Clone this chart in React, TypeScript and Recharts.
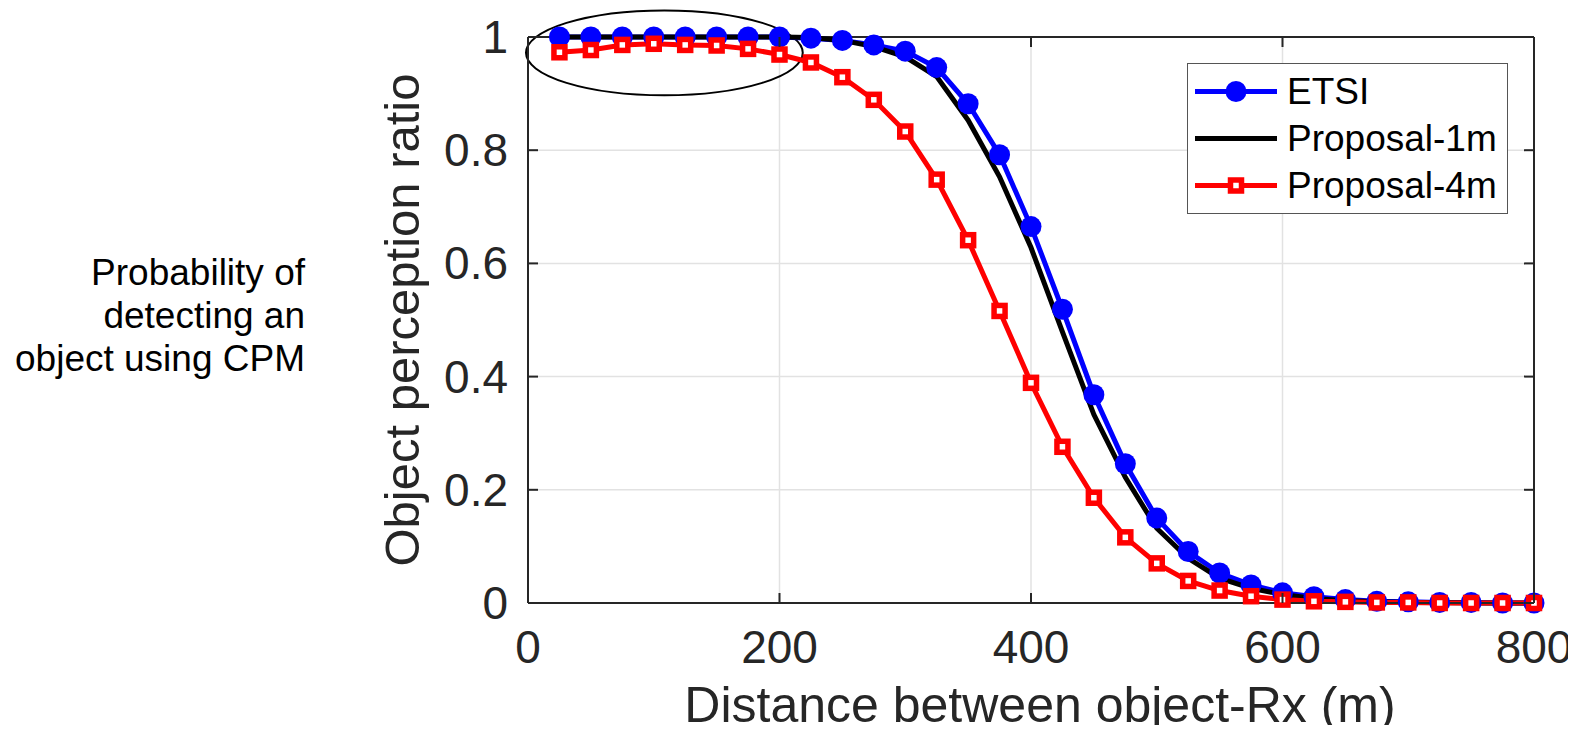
import React from "react";
import {
  LineChart,
  Line,
  XAxis,
  YAxis,
  CartesianGrid,
  ReferenceLine,
  ReferenceArea,
} from "recharts";

// Distance between object and receiver (m)
const distance = [
  25, 50, 75, 100, 125, 150, 175, 200, 225, 250, 275, 300, 325, 350, 375, 400,
  425, 450, 475, 500, 525, 550, 575, 600, 625, 650, 675, 700, 725, 750, 775, 800,
];

const etsi = [
  1.0, 1.0, 1.0, 1.0, 1.0, 1.0, 1.0, 1.0, 0.998, 0.994, 0.986, 0.975, 0.946,
  0.882, 0.792, 0.665, 0.519, 0.368, 0.246, 0.15, 0.091, 0.053, 0.032, 0.018,
  0.011, 0.006, 0.003, 0.002, 0.001, 0.001, 0.0, 0.0,
];

const proposal1m = [
  1.0, 1.0, 1.0, 1.0, 1.0, 1.0, 1.0, 1.0, 0.999, 0.994, 0.983, 0.965, 0.93,
  0.853, 0.753, 0.628, 0.479, 0.333, 0.222, 0.132, 0.079, 0.044, 0.026, 0.015,
  0.008, 0.004, 0.002, 0.001, 0.001, 0.0, 0.0, 0.0,
];

const proposal4m = [
  0.973, 0.977, 0.986, 0.988, 0.986, 0.985, 0.979, 0.969, 0.955, 0.929, 0.889,
  0.833, 0.748, 0.641, 0.516, 0.389, 0.276, 0.186, 0.116, 0.07, 0.039, 0.022,
  0.012, 0.006, 0.003, 0.002, 0.001, 0.001, 0.0, 0.0, 0.0, 0.0,
];

const X_TICKS = [0, 200, 400, 600, 800];
const Y_TICKS = [0, 0.2, 0.4, 0.6, 0.8, 1];

const annotationLines = ["Probability of", "detecting an", "object using CPM"];

// ellipse highlighting the flat region (data coords)
const highlight = { x1: -1.6, x2: 218.5, y1: 0.897, y2: 1.047 };

const FONT = '"Liberation Sans", Arial, Helvetica, sans-serif';
const AXIS = "#262626";

// page box stays 1560x717 (no scrollbars); the svg may run to the window edge
const BOX_W = 1560;
const BOX_H = 717;
const W = 1568;
const H = 725;
const PLOT_LEFT = 520;
const PLOT_TOP = 29;
const PLOT_RIGHT = 1526;
const PLOT_BOTTOM = 595;

const rows = distance.map((d, i) => ({
  distance: d,
  etsi: etsi[i],
  p1: proposal1m[i],
  p4: proposal4m[i],
}));

function XTick(props: any) {
  const { x, payload } = props;
  return (
    <g>
      <line x1={x} x2={x} y1={PLOT_BOTTOM} y2={PLOT_BOTTOM - 10} stroke={AXIS} strokeWidth={2} />
      <line x1={x} x2={x} y1={PLOT_TOP} y2={PLOT_TOP + 10} stroke={AXIS} strokeWidth={2} />
      <text x={x} y={PLOT_BOTTOM + 60} textAnchor="middle" fontSize={46} fill={AXIS} fontFamily={FONT}>
        {payload.value}
      </text>
    </g>
  );
}

function YTick(props: any) {
  const { y, payload } = props;
  return (
    <g>
      <line x1={PLOT_LEFT} x2={PLOT_LEFT + 10} y1={y} y2={y} stroke={AXIS} strokeWidth={2} />
      <line x1={PLOT_RIGHT - 10} x2={PLOT_RIGHT} y1={y} y2={y} stroke={AXIS} strokeWidth={2} />
      <text x={PLOT_LEFT - 20} y={y + 16} textAnchor="end" fontSize={46} fill={AXIS} fontFamily={FONT}>
        {String(payload.value)}
      </text>
    </g>
  );
}

function XTitle() {
  return (
    <text
      x={(PLOT_LEFT + PLOT_RIGHT) / 2 + 9}
      y={714}
      textAnchor="middle"
      fontSize={50}
      fill={AXIS}
      fontFamily={FONT}
    >
      Distance between object-Rx (m)
    </text>
  );
}

function YTitle() {
  const cx = 411;
  const cy = (PLOT_TOP + PLOT_BOTTOM) / 2;
  return (
    <text
      x={cx}
      y={cy}
      transform={`rotate(-90, ${cx}, ${cy})`}
      textAnchor="middle"
      fontSize={49}
      fill={AXIS}
      fontFamily={FONT}
    >
      Object perception ratio
    </text>
  );
}

function EllipseShape(props: any) {
  const { x, y, width, height } = props;
  return (
    <ellipse
      cx={x + width / 2}
      cy={y + height / 2}
      rx={width / 2}
      ry={height / 2}
      fill="none"
      stroke="#000"
      strokeWidth={2}
    />
  );
}

const circleDot = (p: any) => (
  <circle key={`c-${p.index}`} cx={p.cx} cy={p.cy} r={10.5} fill="#0000ff" />
);

const squareDot = (p: any) => (
  <rect
    key={`s-${p.index}`}
    x={p.cx - 5.5}
    y={p.cy - 5.5}
    width={11}
    height={11}
    fill="#fff"
    stroke="#ff0000"
    strokeWidth={5.5}
  />
);

function LegendSample({ kind }: { kind: string }) {
  return (
    <svg width={82} height={47} style={{ display: "block" }}>
      {kind === "etsi" && (
        <>
          <line x1={0} x2={82} y1={23.5} y2={23.5} stroke="#0000ff" strokeWidth={5} />
          <circle cx={41} cy={23.5} r={10.5} fill="#0000ff" />
        </>
      )}
      {kind === "p1" && <line x1={0} x2={82} y1={23.5} y2={23.5} stroke="#000" strokeWidth={5} />}
      {kind === "p4" && (
        <>
          <line x1={0} x2={82} y1={23.5} y2={23.5} stroke="#ff0000" strokeWidth={5} />
          <rect x={35.5} y={18} width={11} height={11} fill="#fff" stroke="#ff0000" strokeWidth={5.5} />
        </>
      )}
    </svg>
  );
}

const legendItems = [
  { kind: "etsi", label: "ETSI" },
  { kind: "p1", label: "Proposal-1m" },
  { kind: "p4", label: "Proposal-4m" },
];

export default function App() {
  return (
    <div style={{ position: "relative", width: BOX_W, height: BOX_H, fontFamily: FONT }}>
      <div style={{ position: "absolute", left: 0, top: 0 }}>
        <LineChart
          width={W}
          height={H}
          data={rows}
          margin={{ top: PLOT_TOP, right: W - PLOT_RIGHT, bottom: H - PLOT_BOTTOM - 60, left: PLOT_LEFT - 120 }}
        >
          <CartesianGrid stroke="#e2e2e2" strokeWidth={1.5} />
          <XAxis
            dataKey="distance"
            type="number"
            domain={[0, 800]}
            ticks={X_TICKS}
            tick={<XTick />}
            tickLine={false}
            axisLine={{ stroke: AXIS, strokeWidth: 2 }}
            height={60}
            label={<XTitle />}
          />
          <YAxis
            type="number"
            domain={[0, 1]}
            ticks={Y_TICKS}
            width={120}
            tick={<YTick />}
            tickLine={false}
            axisLine={{ stroke: AXIS, strokeWidth: 2 }}
            label={<YTitle />}
          />
          <ReferenceLine x={800} stroke={AXIS} strokeWidth={2} />
          <ReferenceLine y={1} stroke={AXIS} strokeWidth={2} />
          <ReferenceArea
            x1={highlight.x1}
            x2={highlight.x2}
            y1={highlight.y1}
            y2={highlight.y2}
            ifOverflow="visible"
            shape={<EllipseShape />}
          />
          <Line
            dataKey="etsi"
            type="linear"
            stroke="#0000ff"
            strokeWidth={5}
            dot={circleDot}
            activeDot={false}
            isAnimationActive={false}
          />
          <Line
            dataKey="p1"
            type="linear"
            stroke="#000000"
            strokeWidth={5}
            dot={false}
            activeDot={false}
            isAnimationActive={false}
          />
          <Line
            dataKey="p4"
            type="linear"
            stroke="#ff0000"
            strokeWidth={5}
            dot={squareDot}
            activeDot={false}
            isAnimationActive={false}
          />
        </LineChart>
      </div>

      <div
        style={{
          position: "absolute",
          right: BOX_W - 297,
          top: 243,
          textAlign: "right",
          fontSize: 37,
          lineHeight: "43px",
          color: "#000",
          whiteSpace: "nowrap",
        }}
      >
        {annotationLines.map((t) => (
          <div key={t}>{t}</div>
        ))}
      </div>

      <div
        style={{
          position: "absolute",
          left: 1179,
          top: 55,
          width: 321,
          height: 151,
          boxSizing: "border-box",
          border: "1.5px solid #555",
          background: "#fff",
          paddingTop: 4,
        }}
      >
        {legendItems.map((it) => (
          <div key={it.kind} style={{ display: "flex", alignItems: "center", height: 47 }}>
            <div style={{ marginLeft: 7 }}>
              <LegendSample kind={it.kind} />
            </div>
            <span style={{ marginLeft: 10, fontSize: 37, color: "#000", lineHeight: "47px" }}>{it.label}</span>
          </div>
        ))}
      </div>
    </div>
  );
}
